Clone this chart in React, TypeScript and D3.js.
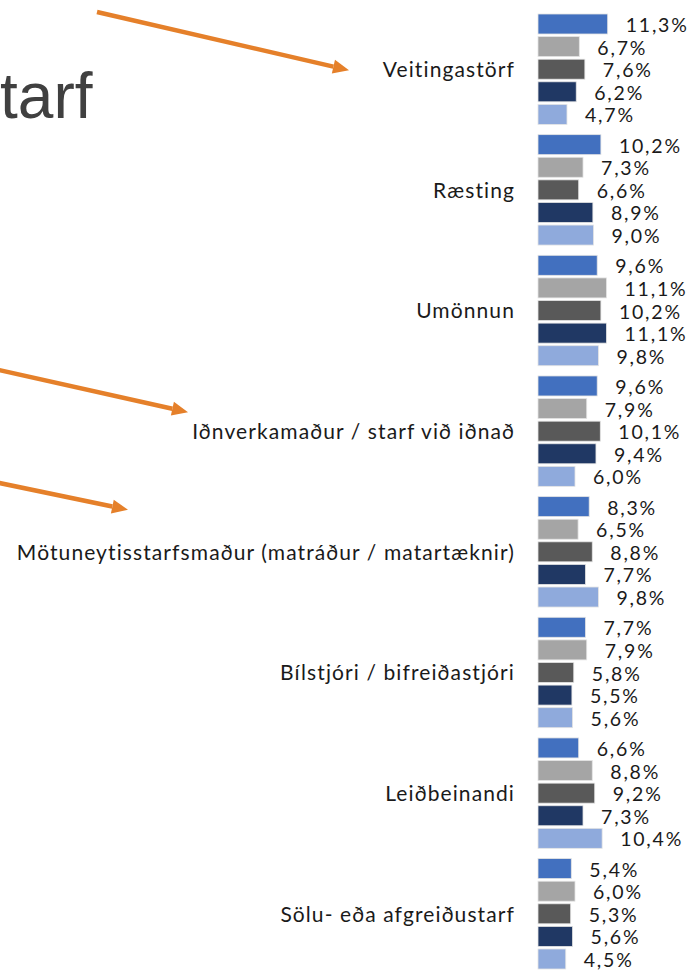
import React, { useEffect, useRef } from 'react';
import * as d3 from 'd3';

// occupations, top to bottom
const categories = [
  'Veitingastörf',
  'Ræsting',
  'Umönnun',
  'Iðnverkamaður / starf við iðnað',
  'Mötuneytisstarfsmaður (matráður / matartæknir)',
  'Bílstjóri / bifreiðastjóri',
  'Leiðbeinandi',
  'Sölu- eða afgreiðustarf',
];

const seriesKeys = ['s1', 's2', 's3', 's4', 's5'];
const seriesColors = ['#4270bf', '#a5a5a5', '#595959', '#203864', '#8faadc'];

// values in % per series, same order as categories
const s1 = [11.3, 10.2, 9.6, 9.6, 8.3, 7.7, 6.6, 5.4];
const s2 = [6.7, 7.3, 11.1, 7.9, 6.5, 7.9, 8.8, 6.0];
const s3 = [7.6, 6.6, 10.2, 10.1, 8.8, 5.8, 9.2, 5.3];
const s4 = [6.2, 8.9, 11.1, 9.4, 7.7, 5.5, 7.3, 5.6];
const s5 = [4.7, 9.0, 9.8, 6.0, 9.8, 5.6, 10.4, 4.5];
const seriesValues = [s1, s2, s3, s4, s5];

const titleText = 'tarf';

// orange arrows pointing at categories
const arrows = [
  { cat: 'Veitingastörf', x0: 97, y0: 12, x1: 349, dy: 1 },
  { cat: 'Iðnverkamaður / starf við iðnað', x0: -10, y0: 368, x1: 188, dy: -19 },
  { cat: 'Mötuneytisstarfsmaður (matráður / matartæknir)', x0: -10, y0: 481, x1: 128, dy: -42 },
];

const fmt = (v: number) => v.toFixed(1).replace('.', ',') + '%';

const App = () => {
  const ref = useRef<HTMLDivElement>(null);

  useEffect(() => {
    if (!ref.current) return;
    d3.select(ref.current).selectAll('*').remove();

    const W = 696;
    const H = 972;

    const svg = d3.select(ref.current)
      .append('svg')
      .attr('width', W)
      .attr('height', H)
      .style('position', 'absolute')
      .style('left', '0px')
      .style('top', '0px')
      .style('background', '#fff');

    const y = d3.scaleBand<string>()
      .domain(categories)
      .range([14, 969])
      .paddingInner(0.085)
      .paddingOuter(0);

    const yInner = d3.scaleBand<string>()
      .domain(seriesKeys)
      .range([0, y.bandwidth()])
      .paddingInner(0.115);

    const x = d3.scaleLinear().domain([0, 12]).range([538, 612]);

    // title fragment (cut at the left edge like the slide)
    svg.append('text')
      .attr('x', 0)
      .attr('y', 118)
      .attr('fill', '#404040')
      .style('font-family', '"Liberation Sans", Arial, sans-serif')
      .style('font-size', '64px')
      .text(titleText);

    // category labels
    svg.append('g')
      .selectAll('text')
      .data(categories)
      .enter().append('text')
      .attr('x', 515)
      .attr('y', d => (y(d) as number) + y.bandwidth() / 2)
      .attr('dy', '0.38em')
      .attr('text-anchor', 'end')
      .attr('fill', '#1a1a1a')
      .style('font-family', 'Lato, sans-serif')
      .style('font-size', '21px')
      .style('letter-spacing', '1.1px')
      .text(d => d);

    // bars + value labels
    categories.forEach((cat, ci) => {
      const g = svg.append('g').attr('transform', `translate(0,${y(cat)})`);
      seriesKeys.forEach((key, si) => {
        const v = seriesValues[si][ci];
        const by = yInner(key) as number;
        g.append('rect')
          .attr('x', x(0))
          .attr('y', by)
          .attr('width', x(v) - x(0))
          .attr('height', yInner.bandwidth())
          .attr('fill', seriesColors[si])
          .attr('stroke', '#e4e4e4')
          .attr('stroke-width', 0.8);
        g.append('text')
          .attr('x', x(v) + 18)
          .attr('y', by + yInner.bandwidth() / 2 + 1)
          .attr('dy', '0.36em')
          .attr('fill', '#1a1a1a')
          .style('font-family', 'Lato, sans-serif')
          .style('font-size', '19.5px')
          .style('letter-spacing', '1.8px')
          .text(fmt(v));
      });
    });

    // arrows
    const orange = '#e5802a';
    arrows.forEach(a => {
      const x1 = a.x1;
      const y1 = (y(a.cat) as number) + y.bandwidth() / 2 + a.dy;
      const ang = Math.atan2(y1 - a.y0, x1 - a.x0);
      const len = 16;
      const hw = 7;
      const bx = x1 - len * Math.cos(ang);
      const by = y1 - len * Math.sin(ang);
      svg.append('line')
        .attr('x1', a.x0).attr('y1', a.y0)
        .attr('x2', bx).attr('y2', by)
        .attr('stroke', orange)
        .attr('stroke-width', 4.5);
      svg.append('path')
        .attr('d', d3.line()([
          [x1, y1],
          [bx + hw * Math.sin(ang), by - hw * Math.cos(ang)],
          [bx - hw * Math.sin(ang), by + hw * Math.cos(ang)],
        ]) + 'Z')
        .attr('fill', orange);
    });
  }, []);

  return <div ref={ref} />;
};

export default App;
